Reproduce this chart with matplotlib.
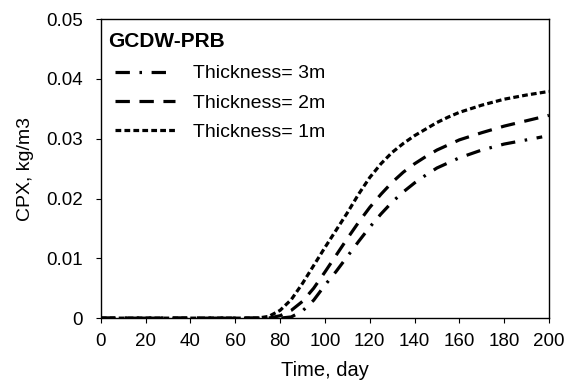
import matplotlib
matplotlib.use("Agg")
import matplotlib.pyplot as plt

plt.rcParams['font.family'] = ['Liberation Sans', 'DejaVu Sans']

t1 = [0, 10, 20, 30, 40, 50, 60, 70, 75, 80, 85, 90, 95, 100, 105, 110, 115, 120, 125, 130, 135, 140, 145, 150, 155, 160, 170, 180, 190, 200]
c1 = [0, 0, 0, 0, 0, 0, 0, 0, 0.0003, 0.0013, 0.0031, 0.0058, 0.0088, 0.0118, 0.0147, 0.0176, 0.0207, 0.0235, 0.0258, 0.0277, 0.0292, 0.0305, 0.0316, 0.0327, 0.0336, 0.0344, 0.0356, 0.0366, 0.0373, 0.0379]

t2 = [0, 10, 20, 30, 40, 50, 60, 70, 75, 80, 85, 90, 95, 100, 105, 110, 115, 120, 125, 130, 135, 140, 145, 150, 160, 170, 180, 190, 200]
c2 = [0, 0, 0, 0, 0, 0, 0, 0, 0, 0.0004, 0.0013, 0.0028, 0.005, 0.0077, 0.0105, 0.0133, 0.016, 0.0185, 0.0207, 0.0227, 0.0244, 0.0258, 0.027, 0.0281, 0.0298, 0.031, 0.0321, 0.033, 0.0339]

t3 = [0, 10, 20, 30, 40, 50, 60, 70, 80, 85, 90, 95, 100, 105, 110, 115, 120, 125, 130, 135, 140, 145, 150, 160, 170, 180, 190, 197]
c3 = [0, 0, 0, 0, 0, 0, 0, 0, 0, 0.0002, 0.0012, 0.003, 0.0055, 0.0078, 0.0103, 0.0128, 0.0152, 0.0174, 0.0194, 0.0211, 0.0226, 0.0239, 0.0251, 0.0268, 0.0281, 0.0291, 0.0298, 0.0303]

labels = ['Thickness= 3m', 'Thickness= 2m', 'Thickness= 1m']
legend_title = 'GCDW-PRB'
xticks = [0, 20, 40, 60, 80, 100, 120, 140, 160, 180, 200]
yticks = [0, 0.01, 0.02, 0.03, 0.04, 0.05]
ytick_labels = ['0', '0.01', '0.02', '0.03', '0.04', '0.05']

fig = plt.figure(figsize=(5.73, 3.81), dpi=100)
ax = fig.add_axes([0.176, 0.165, 0.782, 0.785])

ax.plot(t3, c3, color='black', lw=2.3, dashes=(4.5, 3, 0.8, 3), label=labels[0])
ax.plot(t2, c2, color='black', lw=2.3, dashes=(4.5, 3), label=labels[1])
ax.plot(t1, c1, color='black', lw=2.3, dashes=(1.8, 1.0), label=labels[2])

ax.set_xlim(0, 200)
ax.set_ylim(0, 0.05)
ax.set_xticks(xticks)
ax.set_yticks(yticks)
ax.set_yticklabels(ytick_labels)
ax.tick_params(direction='out', labelsize=13.5, length=3.5, width=0.8)
ax.tick_params(axis='x', pad=7)
ax.tick_params(axis='y', pad=9.5)
for s in ax.spines.values():
    s.set_linewidth(1.0)

ax.set_xlabel('Time, day', fontsize=14.5, labelpad=8)
ax.set_ylabel('CPX, kg/m3', fontsize=14, labelpad=9)

ax.text(0.0156, 0.925, legend_title, transform=ax.transAxes, fontsize=15,
        fontweight='bold', ha='left', va='center')

leg = ax.legend(loc='upper left', frameon=False,
                fontsize=14, handlelength=3.1, labelspacing=0.6,
                bbox_to_anchor=(0.031, 0.847), borderaxespad=0, borderpad=0,
                handletextpad=0.9)

fig.savefig('out.png', dpi=100)
